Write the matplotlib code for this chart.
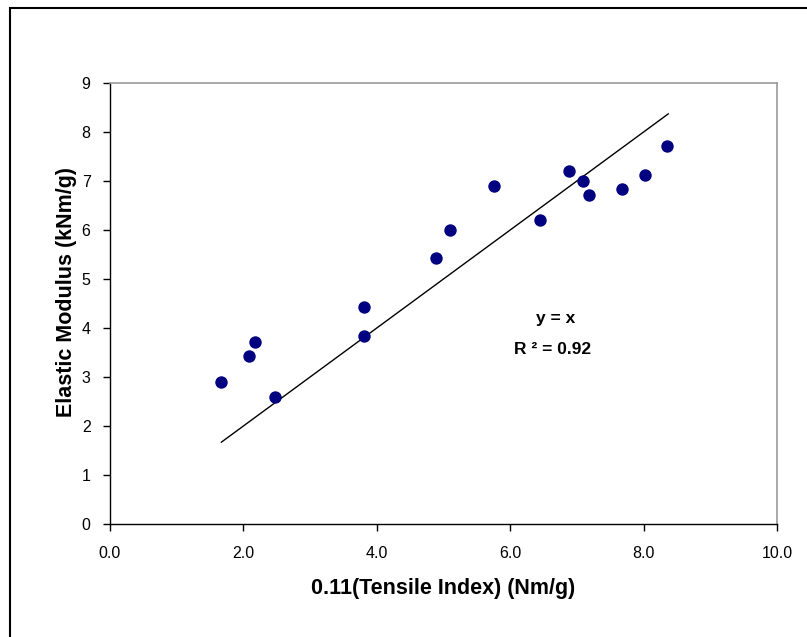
import matplotlib
matplotlib.use("Agg")
import matplotlib.pyplot as plt
from matplotlib.patches import Rectangle

plt.rcParams['font.family'] = ['Liberation Sans', 'DejaVu Sans']

# data
tensile = [1.66, 2.08, 2.17, 2.47, 3.81, 3.81, 4.89, 5.10, 5.76,
           6.45, 6.88, 7.09, 7.18, 7.68, 8.02, 8.35]
modulus = [2.90, 3.42, 3.71, 2.60, 4.42, 3.83, 5.42, 6.01, 6.90,
           6.20, 7.20, 7.01, 6.71, 6.83, 7.12, 7.72]
fit_x = [1.67, 8.37]   # y = x line
fit_y = [1.67, 8.37]
x_ticks = [0, 2, 4, 6, 8, 10]
y_ticks = list(range(10))

fig = plt.figure(figsize=(8.07, 6.37), dpi=100)
ax = fig.add_axes([0.1363, 0.1774, 0.8265, 0.6923])

ax.scatter(tensile, modulus, s=80, color="#000080", zorder=3, linewidths=0)
ax.plot(fit_x, fit_y, color="black", lw=1.0)

ax.set_xlim(0, 10)
ax.set_ylim(0, 9)
ax.set_xticks(x_ticks)
ax.set_xticklabels([f"{v:.1f}" for v in x_ticks])
ax.set_yticks(y_ticks)
ax.tick_params(axis="both", direction="out", length=5, width=1,
               labelsize=11.5, colors="black")
ax.tick_params(axis="x", pad=11)
ax.tick_params(axis="y", pad=9)

for side in ("top", "right"):
    ax.spines[side].set_color("#9a9a9a")
    ax.spines[side].set_linewidth(1.2)
for side in ("left", "bottom"):
    ax.spines[side].set_color("black")
    ax.spines[side].set_linewidth(1.0)

ax.set_xlabel("0.11(Tensile Index) (Nm/g)", fontsize=15.5, fontweight="bold",
              labelpad=12)
ax.set_ylabel("Elastic Modulus (kNm/g)", fontsize=15.5, fontweight="bold")
ax.yaxis.set_label_coords(-0.05, 0.526)

ax.text(6.68, 4.19, "y = x", fontsize=12.5, fontweight="bold",
        ha="center", va="center")
ax.text(6.63, 3.56, "R ² = 0.92", fontsize=12.5,
        fontweight="bold", ha="center", va="center")

# outer chart border (runs off right/bottom edges like the reference)
fig.patches.append(Rectangle((10 / 807, -0.05), 1.2, 1 - 8 / 637 + 0.05,
                             transform=fig.transFigure, fill=False,
                             edgecolor="black", lw=1.5))

fig.savefig("out.png", dpi=100)
